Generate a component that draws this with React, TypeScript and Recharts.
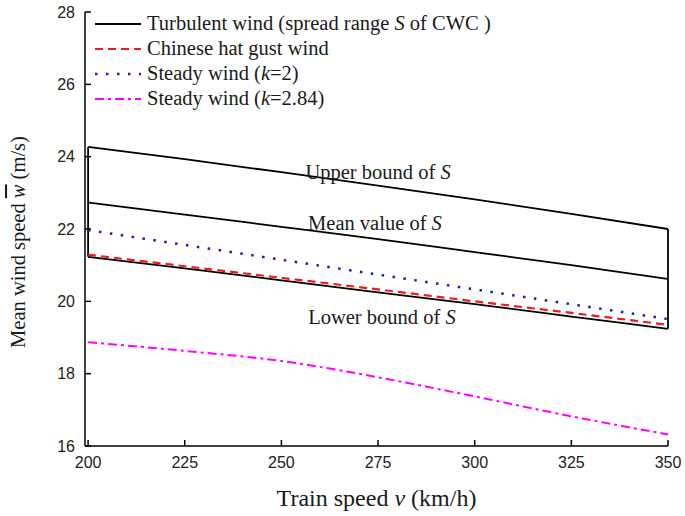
import React from "react";
import {
  LineChart,
  Line,
  XAxis,
  YAxis,
  ReferenceLine,
  ReferenceDot,
  Legend,
  Label,
} from "recharts";

const speeds = [200, 225, 250, 275, 300, 325, 350];
const upperBound = [24.27, 23.93, 23.57, 23.2, 22.82, 22.42, 22.0];
const meanValue = [22.73, 22.4, 22.06, 21.72, 21.36, 21.0, 20.62];
const lowerBound = [21.23, 20.91, 20.58, 20.25, 19.92, 19.58, 19.24];
const chineseHat = [21.29, 20.97, 20.65, 20.33, 20.0, 19.68, 19.35];
const steadyK2 = [21.97, 21.56, 21.15, 20.74, 20.33, 19.92, 19.51];
const steadyK284 = [18.87, 18.63, 18.35, 17.9, 17.37, 16.82, 16.32];

const xTicks = [200, 225, 250, 275, 300, 325, 350];
const yTicks = [16, 18, 20, 22, 24, 26, 28];

const data = speeds.map((v, i) => ({
  v,
  upper: upperBound[i],
  mean: meanValue[i],
  lower: lowerBound[i],
  hat: chineseHat[i],
  k2: steadyK2[i],
  k284: steadyK284[i],
}));

const SERIF = '"Liberation Serif", "Times New Roman", serif';
const SANS = '"Liberation Sans", Arial, sans-serif';
const INK = "#1a1a1a";

const legendItems = [
  { key: "turb", color: "#000", dash: undefined, width: 2, text: ["Turbulent wind (spread range ", "S", " of CWC )"] },
  { key: "hat", color: "#ee1c1c", dash: "8 5", width: 2, text: ["Chinese hat gust wind"] },
  { key: "k2", color: "#1c1cb4", dash: "2.5 8.5", width: 2.5, text: ["Steady wind (", "k", "=2)"] },
  { key: "k284", color: "#ff00ff", dash: "9 4 3 4", width: 2, text: ["Steady wind (", "k", "=2.84)"] },
];

function LegendBox() {
  return (
    <div style={{ fontFamily: SERIF, fontSize: 20.5, color: INK, whiteSpace: "nowrap", lineHeight: "25px" }}>
      {legendItems.map((it) => (
        <div key={it.key} style={{ display: "flex", alignItems: "center", height: 25 }}>
          <svg width={48} height={10} style={{ marginRight: 5 }}>
            <line x1={1} y1={5} x2={47} y2={5} stroke={it.color} strokeWidth={it.width} strokeDasharray={it.dash} />
          </svg>
          <span>
            {it.text.map((t, i) => (
              <span key={i} style={{ fontStyle: i === 1 ? "italic" : "normal" }}>{t}</span>
            ))}
          </span>
        </div>
      ))}
    </div>
  );
}

function boundLabel(text: string) {
  return (props: any) => {
    const { viewBox } = props;
    const cx = viewBox.cx ?? viewBox.x + (viewBox.width || 0) / 2;
    const cy = viewBox.cy ?? viewBox.y + (viewBox.height || 0) / 2;
    return (
      <text x={cx} y={cy} dy={7} textAnchor="middle" fontFamily={SERIF} fontSize={20.5} fill={INK}>
        {text}
        <tspan fontStyle="italic">S</tspan>
      </text>
    );
  };
}

function YTitle(props: any) {
  const { viewBox } = props;
  const cx = 18;
  const cy = 242;
  return (
    <text
      x={cx}
      y={cy}
      transform={`rotate(-90 ${cx} ${cy})`}
      textAnchor="middle"
      dominantBaseline="central"
      fontFamily={SERIF}
      fontSize={20.5}
      fill={INK}
    >
      Mean wind speed{" "}
      <tspan fontStyle="italic" style={{ textDecoration: "overline" }}>w</tspan> (m/s)
    </text>
  );
}

function XTitle(props: any) {
  const { viewBox } = props;
  const cx = viewBox.x + viewBox.width / 2;
  return (
    <text x={cx} y={506} textAnchor="middle" fontFamily={SERIF} fontSize={24} fill={INK}>
      Train speed <tspan fontStyle="italic">v</tspan> (km/h)
    </text>
  );
}

export default function App() {
  const first = 0;
  const last = speeds.length - 1;
  return (
    <div style={{ position: "absolute", left: 0, top: 0, width: 685, height: 516, background: "#fff" }}>
      <LineChart width={685} height={516} data={data} margin={{ top: 12, right: 17, bottom: 40, left: 0 }}>
        <XAxis
          dataKey="v"
          type="number"
          domain={[199.2, 350]}
          ticks={xTicks}
          allowDataOverflow
          height={30}
          tickSize={-6}
          tickMargin={17}
          stroke="#000"
          strokeWidth={1.5}
          tick={{ fill: "#222", fontSize: 16, fontFamily: SANS }}
        >
          <Label content={<XTitle />} />
        </XAxis>
        <YAxis
          type="number"
          domain={[16, 28]}
          ticks={yTicks}
          width={85}
          tickSize={-6}
          tickMargin={16}
          stroke="#000"
          strokeWidth={1.5}
          tick={{ fill: "#222", fontSize: 16, fontFamily: SANS }}
        >
          <Label content={<YTitle />} />
        </YAxis>
        <Legend
          verticalAlign="middle"
          align="center"
          layout="horizontal"
          content={<LegendBox />}
          wrapperStyle={{ top: 11, left: 94, width: "auto", height: "auto" }}
        />
        <ReferenceLine
          segment={[{ x: speeds[first], y: lowerBound[first] }, { x: speeds[first], y: upperBound[first] }]}
          stroke="#000"
          strokeWidth={1.8}
        />
        <ReferenceLine
          segment={[{ x: speeds[last], y: lowerBound[last] }, { x: speeds[last], y: upperBound[last] }]}
          stroke="#000"
          strokeWidth={1.8}
        />
        <Line type="monotone" dataKey="upper" stroke="#000" strokeWidth={1.8} dot={false} isAnimationActive={false} />
        <Line type="monotone" dataKey="mean" stroke="#000" strokeWidth={1.8} dot={false} isAnimationActive={false} />
        <Line type="monotone" dataKey="lower" stroke="#000" strokeWidth={1.8} dot={false} isAnimationActive={false} />
        <Line type="monotone" dataKey="k2" stroke="#1c1cb4" strokeWidth={2.5} strokeDasharray="2.5 8.5" dot={false} isAnimationActive={false} />
        <Line type="monotone" dataKey="hat" stroke="#ee1c1c" strokeWidth={2.2} strokeDasharray="8 5" dot={false} isAnimationActive={false} />
        <Line type="monotone" dataKey="k284" stroke="#ff00ff" strokeWidth={2} strokeDasharray="9 4 3 4" dot={false} isAnimationActive={false} />
        <ReferenceDot x={275} y={23.58} r={0} fill="none" stroke="none" label={boundLabel("Upper bound of ")} />
        <ReferenceDot x={274.2} y={22.17} r={0} fill="none" stroke="none" label={boundLabel("Mean value of ")} />
        <ReferenceDot x={276} y={19.57} r={0} fill="none" stroke="none" label={boundLabel("Lower bound of ")} />
      </LineChart>
    </div>
  );
}
